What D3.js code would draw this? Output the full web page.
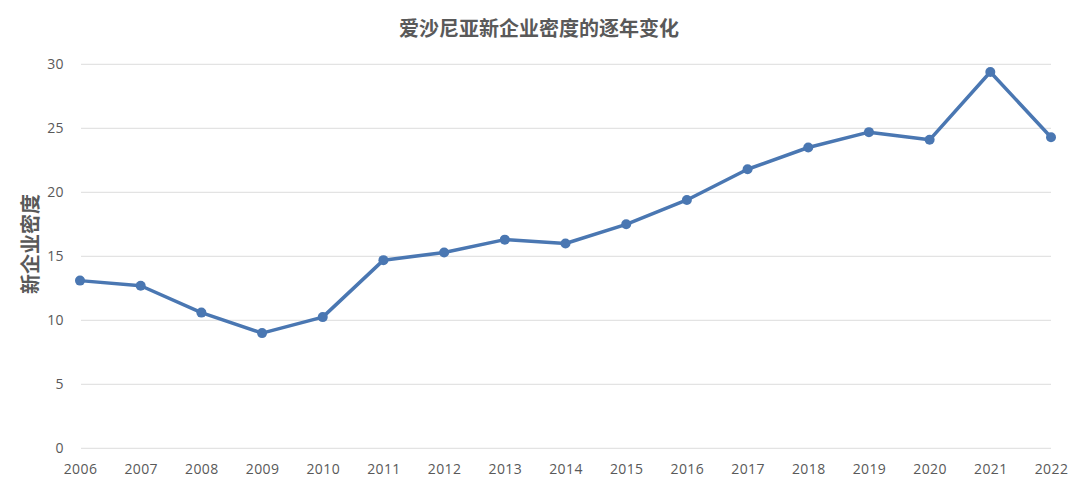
<!DOCTYPE html>
<html><head><meta charset="utf-8">
<script src="https://cdn.jsdelivr.net/npm/d3@7"></script>
<style>body{margin:0;background:#fff;}svg{display:block;}</style>
</head><body>
<svg id="c" width="1080" height="485"></svg>
<script>
const years = ["2006","2007","2008","2009","2010","2011","2012","2013","2014","2015","2016","2017","2018","2019","2020","2021","2022"];
const density = [13.1,12.7,10.6,9.0,10.25,14.7,15.3,16.3,16.0,17.5,19.4,21.8,23.5,24.7,24.1,29.4,24.3];
const yTicks = [0,5,10,15,20,25,30];
const title = "爱沙尼亚新企业密度的逐年变化";
const yTitle = "新企业密度";

const svg = d3.select("#c");
const font = "'Noto Sans CJK SC','Noto Sans',sans-serif";
const tfont = "'Open Sans','Noto Sans',sans-serif";
const x = d3.scalePoint().domain(years).range([80, 1051]);
const y = d3.scaleLinear().domain([0,30]).range([448.3, 64.3]);

svg.append("g").selectAll("line").data(yTicks).join("line")
  .attr("x1", 81).attr("x2", 1051)
  .attr("y1", d=>y(d)).attr("y2", d=>y(d))
  .attr("stroke", "#e3e3e3").attr("stroke-width", 1.2);

const ya = svg.append("g").attr("transform","translate(64,0)")
  .call(d3.axisLeft(y).tickValues(yTicks).tickSize(0).tickPadding(0));
ya.select(".domain").remove();
ya.selectAll("text").attr("fill","#595959").style("font-family",tfont).style("font-size","14px").style("letter-spacing","0.4px");

const xa = svg.append("g").attr("transform","translate(0,464)")
  .call(d3.axisBottom(x).tickSize(0).tickPadding(0));
xa.select(".domain").remove();
xa.selectAll("text").attr("fill","#595959").style("font-family",tfont).style("font-size","14px").style("letter-spacing","0.4px").attr("dy","0.71em");

svg.append("text").attr("x",539).attr("y",36).attr("text-anchor","middle")
  .attr("fill","#595959").style("font-family",font).style("font-size","20px").style("font-weight","bold").text(title);

svg.append("text").attr("transform","translate(38,244) rotate(-90)").attr("text-anchor","middle")
  .attr("fill","#595959").style("font-family",font).style("font-size","20px").style("font-weight","bold").text(yTitle);

const line = d3.line().x((d,i)=>x(years[i])).y(d=>y(d));
svg.append("path").datum(density).attr("d",line).attr("fill","none")
  .attr("stroke","#4a77b2").attr("stroke-width",3.5).attr("stroke-linejoin","round");
svg.append("g").selectAll("circle").data(density).join("circle")
  .attr("cx",(d,i)=>x(years[i])).attr("cy",d=>y(d)).attr("r",5).attr("fill","#4a77b2");
</script>
</body></html>
